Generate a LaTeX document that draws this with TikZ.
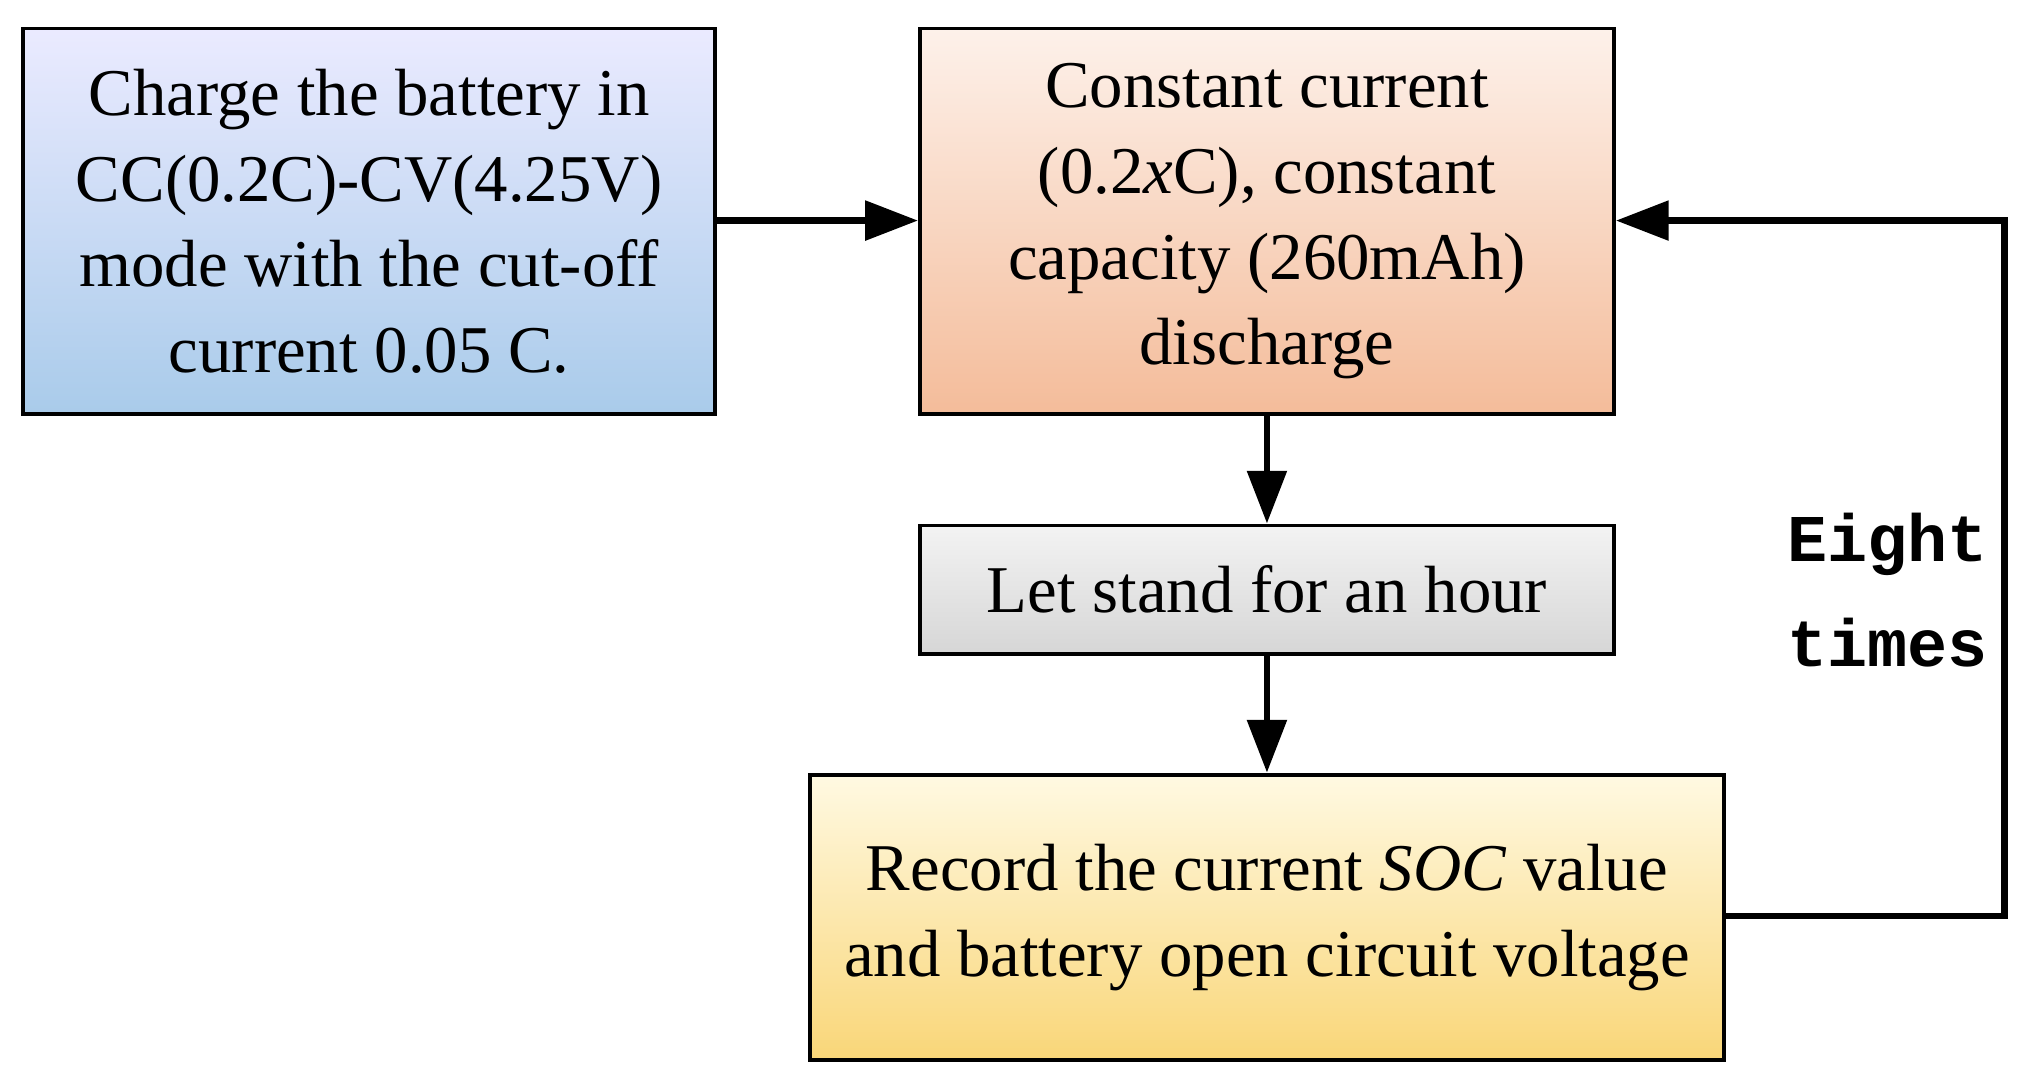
\documentclass[tikz,border=0pt]{standalone}
\usepackage{fontspec}
\setmainfont{Liberation Serif}
\newfontfamily\monof{Liberation Mono}
\usetikzlibrary{arrows.meta}
\begin{document}
\begin{tikzpicture}[x=0.012975cm,y=-0.012975cm,
  box/.style={draw=black,line width=1.1pt,align=center,inner sep=0pt,
    font=\fontsize{19}{24.4}\selectfont},
  arr/.style={line width=1.9pt,-{Triangle[length=15pt,width=11pt]}}]
\useasboundingbox (0,0) rectangle (1560,828.5);
\node[box,top color=blue!8!white,bottom color={rgb,255:red,169;green,203;blue,234},
  minimum width=533*0.012975cm,minimum height=297*0.012975cm] (a) at (284.5,170.5)
  {Charge the battery in\\CC(0.2C)-CV(4.25V)\\mode with the cut-off\\current 0.05 C.};
\node[box,top color={rgb,255:red,253;green,241;blue,234},bottom color={rgb,255:red,244;green,188;blue,154},
  minimum width=535*0.012975cm,minimum height=297*0.012975cm] (b) at (976.5,170.5)
  {Constant current\\(0.2\textit{x}C), constant\\capacity (260mAh)\\discharge};
\node[box,top color={rgb,255:red,243;green,243;blue,243},bottom color={rgb,255:red,214;green,214;blue,214},
  minimum width=535*0.012975cm,minimum height=99*0.012975cm] (c) at (976.5,454.5)
  {Let stand for an hour};
\node[box,top color={rgb,255:red,255;green,249;blue,226},bottom color={rgb,255:red,249;green,214;blue,120},
  minimum width=705*0.012975cm,minimum height=220*0.012975cm] (d) at (976.5,707)
  {Record the current \textit{SOC} value\\and battery open circuit voltage};
\draw[arr] (a.east |- 0,170) -- (b.west |- 0,170);
\draw[arr] (b) -- (c);
\draw[arr] (c) -- (d);
\coordinate (p) at (1545,706);
\coordinate (q) at (1545,170);
\draw[arr] (d.east |- p) -- (p) -- (q) -- (b.east |- q);
\node[font=\monof\bfseries\fontsize{19}{30}\selectfont,align=center] (t) at (1455,455) {Eight\\times};
\end{tikzpicture}
\end{document}
